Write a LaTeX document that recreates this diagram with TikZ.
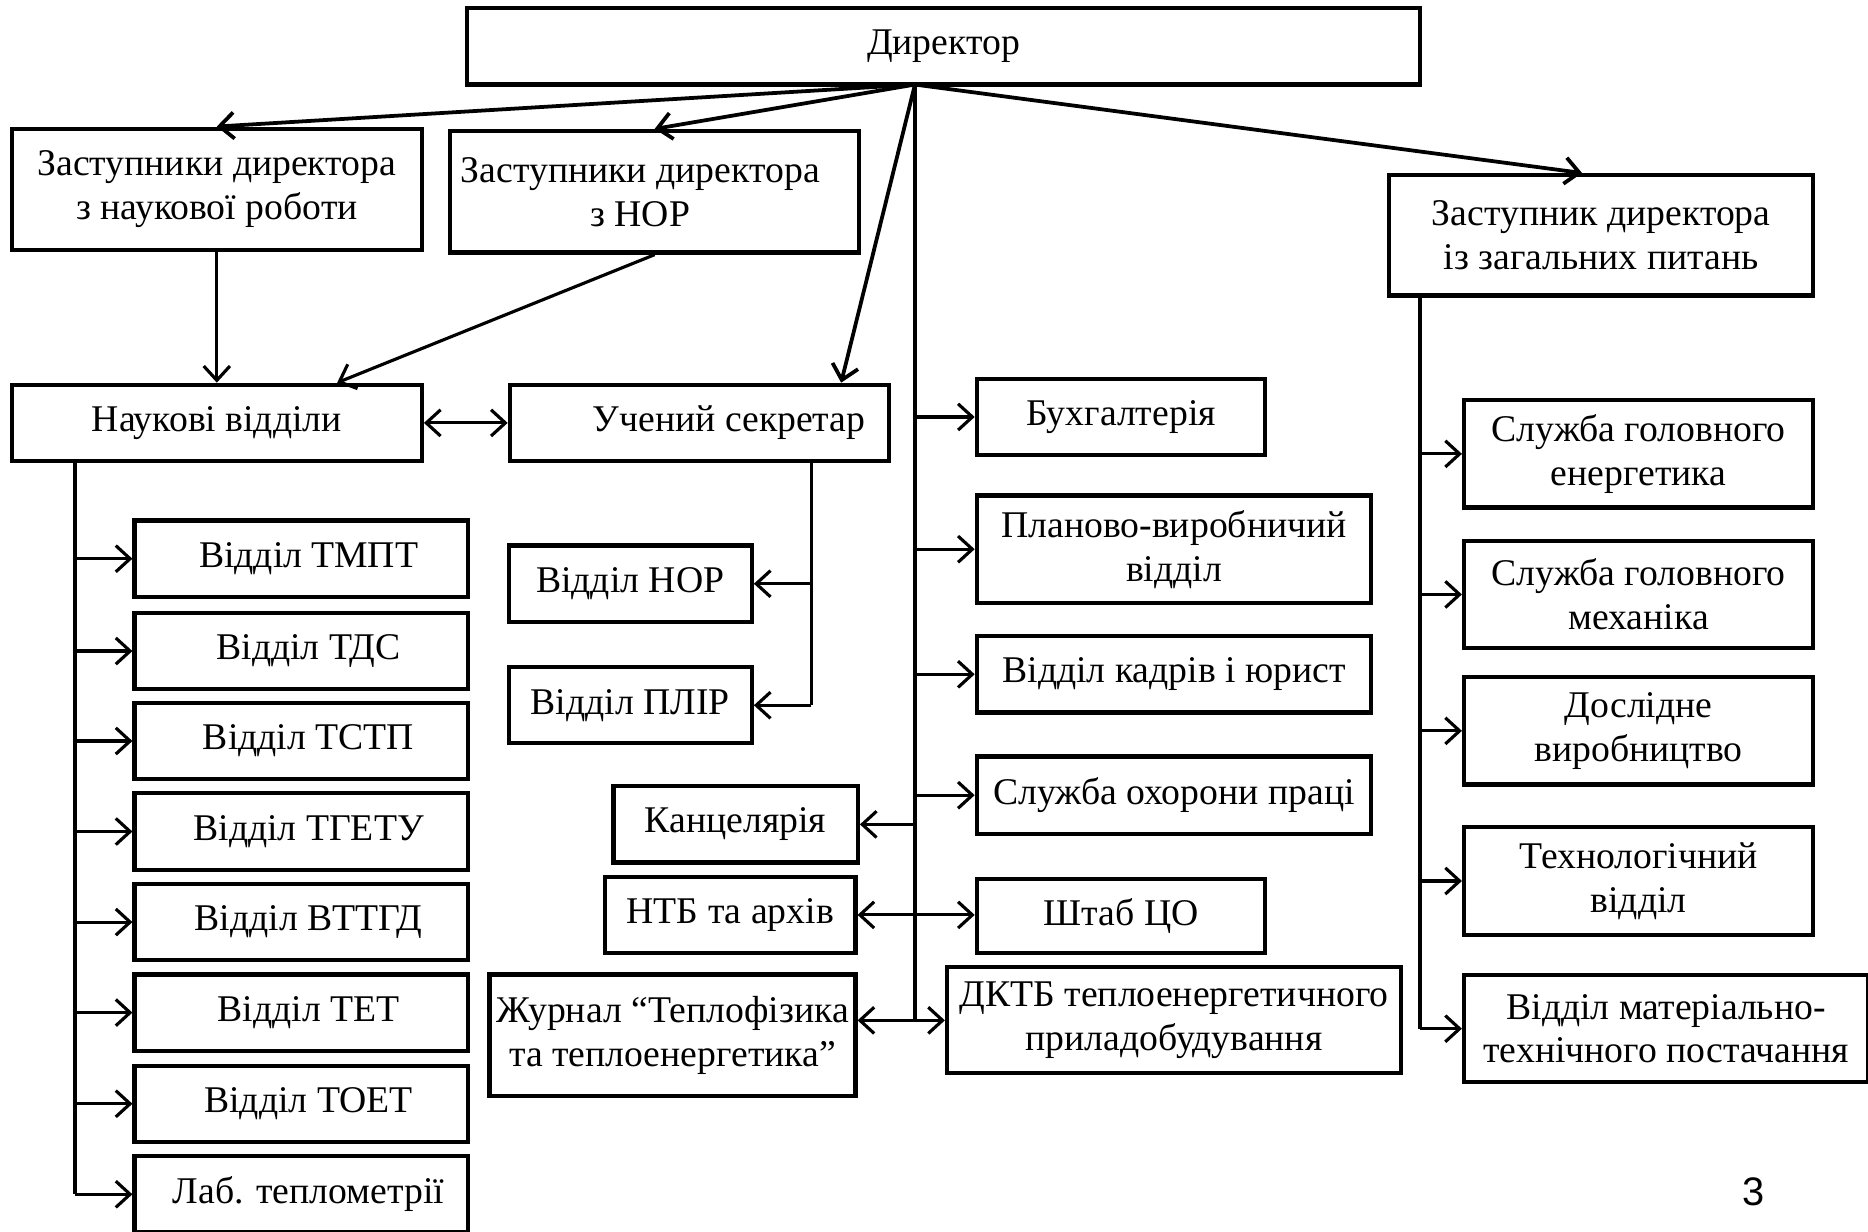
\documentclass[tikz,border=0pt]{standalone}
\usepackage{fontspec}
\setmainfont{Liberation Serif}
\newfontfamily\pagenumfont{Liberation Sans}
\usetikzlibrary{positioning, arrows.meta}
\tikzset{
    orgbox/.style={draw, line width=1pt, align=center, inner sep=1pt,
        minimum height=0.64cm, font=\fontsize{9}{10.5}\selectfont},
    widebox/.style={orgbox, minimum width=3.44cm, minimum height=1.02cm},
    deptbox/.style={orgbox, minimum width=2.8cm},
    servbox/.style={orgbox, minimum width=2.93cm, minimum height=0.9cm},
    wire/.style={line width=0.75pt},
    conn/.style={wire, -{Straight Barb[length=1.2mm, width=2.2mm]}},
    both/.style={wire, {Straight Barb[length=1.2mm, width=2.2mm]}-{Straight Barb[length=1.2mm, width=2.2mm]}},
    fan/.style={conn, line width=0.9pt}
}

\begin{document}
\begin{tikzpicture}[x=0.01cm, y=-0.01cm]
    \useasboundingbox (0,0) rectangle (1568,1034);

    % director and deputies
    \node[orgbox, minimum width=8cm] (director) at (792,39) {Директор};
    \coordinate (hub) at (768,71);
    \node[widebox] (zamnauk) at (182,159) {Заступники директора\\з наукової роботи};
    \node[widebox, minimum width=3.43cm] (zamnor) at (549.5,161) {Заступники директора\hspace*{0.24cm}\\з НОР\hspace*{0.24cm}};
    \node[widebox, minimum width=3.56cm, minimum height=1.01cm] (zamzag) at (1344,197.5) {Заступник директора\\із загальних питань};

    \node[orgbox, minimum width=3.44cm] (naukovi) at (182,355) {Наукові відділи};
    \node[orgbox, minimum width=3.18cm] (sekretar) at (587,355) {\hspace*{0.5cm}Учений секретар};

    % scientific departments
    \foreach \name/\y/\txt in {tmpt/469/Відділ ТМПТ, tds/546.5/Відділ ТДС, tstp/622/Відділ ТСТП,
            tgetu/698/Відділ ТГЕТУ, vttgd/774/Відділ ВТТГД, tet/850/Відділ ТЕТ,
            toet/926.5/Відділ ТОЕТ, lab/1002.5/Лаб. теплометрії}
        \node[deptbox] (\name) at (253,\y) {\hspace*{0.12cm}\txt};

    \node[orgbox, minimum width=2.04cm] (vnor) at (529,490) {Відділ НОР};
    \node[orgbox, minimum width=2.04cm] (vplir) at (529,592) {Відділ ПЛІР};

    % director's services
    \node[orgbox, minimum width=2.42cm] (buh) at (941,350) {Бухгалтерія};
    \node[orgbox, minimum width=3.31cm, minimum height=0.9cm] (planovo) at (985.5,461) {Планово-виробничий\\відділ};
    \node[orgbox, minimum width=3.31cm] (kadry) at (985.5,566) {Відділ кадрів і юрист};
    \node[orgbox, minimum width=3.31cm, minimum height=0.65cm] (okhorona) at (985.5,667.5) {Служба охорони праці};
    \node[orgbox, minimum width=2.42cm, minimum height=0.62cm] (shtab) at (941,769) {Штаб ЦО};
    \node[orgbox, minimum width=3.81cm, minimum height=0.89cm] (dktb) at (985.5,856.5) {ДКТБ теплоенергетичного\\приладобудування};
    \node[orgbox, minimum width=2.05cm] (kants) at (617.5,692) {Канцелярія};
    \node[orgbox, minimum width=2.1cm] (ntb) at (613,768) {НТБ та архів};
    \node[orgbox, minimum width=3.07cm, minimum height=1.02cm] (zhurnal) at (564.5,869) {Журнал “Теплофізика\\та теплоенергетика”};

    % general services
    \foreach \name/\y/\txt in {energ/381/Служба головного\\енергетика, mekh/499/Служба головного\\механіка,
            dosl/613.5/Дослідне\\виробництво, tekhn/739.5/Технологічний\\відділ}
        \node[servbox] (\name) at (1375.5,\y) {\txt};
    \node[servbox, minimum width=3.39cm] (mtp) at (1398.5,863.5) {Відділ матеріально-\\технічного постачання};

    \node[font=\pagenumfont\fontsize{9.5}{11}\selectfont] (pagenum) at (1472,1000) {3};

    % connectors from the director
    \draw[fan] (hub) -- (zamnauk.north);
    \draw[fan] (hub) -- (zamnor.north);
    \draw[fan] (hub) -- ([xshift=1.19cm]sekretar.north);
    \draw[fan] (hub) -- ([xshift=-0.16cm]zamzag.north);
    \draw[wire] (hub) -- (hub |- dktb.west);
    \foreach \name in {buh, planovo, kadry, okhorona}
        \draw[conn] (hub |- \name.west) -- (\name.west);
    \draw[conn] (hub |- kants.east) -- (kants.east);
    \draw[both] (ntb.east) -- (ntb.east -| shtab.west);
    \draw[both] (dktb.west -| zhurnal.east) -- (dktb.west);

    % deputies and secretary
    \draw[conn] (zamnauk) -- (naukovi);
    \draw[conn] (zamnor.south) -- ([xshift=1.01cm]naukovi.north);
    \draw[both] (naukovi) -- (sekretar);

    \coordinate (lt) at ([xshift=-1.19cm]naukovi.south);
    \draw[wire] (lt) -- (lt |- lab.west);
    \foreach \name in {tmpt, tds, tstp, tgetu, vttgd, tet, toet, lab}
        \draw[conn] (lt |- \name.west) -- (\name.west);

    \coordinate (st) at ([xshift=0.94cm]sekretar.south);
    \draw[wire] (st) -- (st |- vplir.east);
    \draw[conn] (st |- vnor.east) -- (vnor.east);
    \draw[conn] (st |- vplir.east) -- (vplir.east);

    \coordinate (zt) at ([xshift=-1.52cm]zamzag.south);
    \draw[wire] (zt) -- (zt |- mtp.west);
    \foreach \name in {energ, mekh, dosl, tekhn, mtp}
        \draw[conn] (zt |- \name.west) -- (\name.west);
\end{tikzpicture}
\end{document}
